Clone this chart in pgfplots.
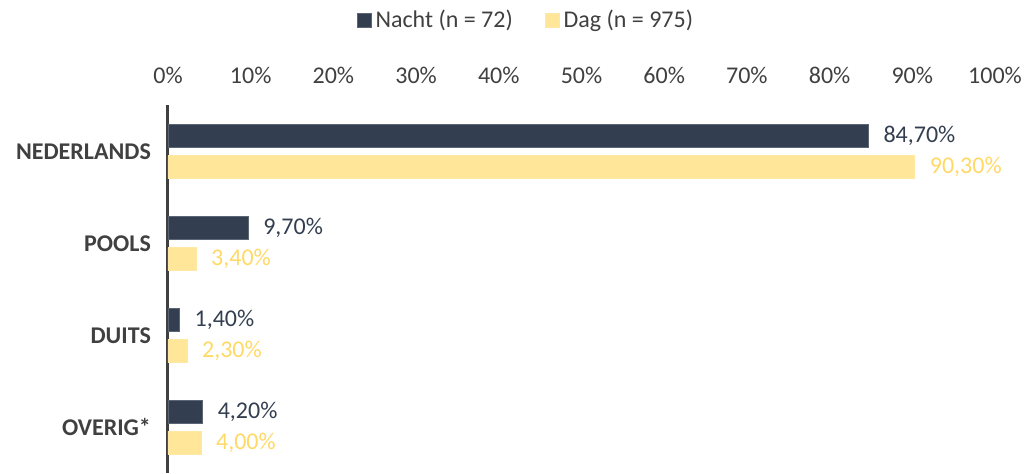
\documentclass[border=0pt]{standalone}
\usepackage{pgfplots}
\pgfplotsset{compat=1.18}
\usepackage{fontspec}
\setmainfont{Carlito}
\definecolor{nacht}{HTML}{333F50}
\definecolor{dag}{HTML}{FFE699}
\definecolor{daglab}{HTML}{FFD966}
\definecolor{txt}{HTML}{404040}
\begin{document}
\begin{tikzpicture}
\path[use as bounding box] (-84pt,0pt) rectangle (428.5pt,236.5pt);
\begin{axis}[
  at={(0pt,0pt)}, anchor=south west,
  scale only axis, width=413.5pt, height=184pt,
  xbar, bar width=11.5pt, bar shift=0pt,
  xmin=0, xmax=100, ymin=-0.51, ymax=3.5, y dir=reverse,
  separate axis lines,
  axis x line*=top, axis y line*=left,
  x axis line style={draw=none},
  y axis line style={-, line width=1.5pt, color=txt},
  major tick length=0pt,
  xtick={0,10,...,100},
  xticklabels={0\%,10\%,20\%,30\%,40\%,50\%,60\%,70\%,80\%,90\%,100\%},
  xticklabel style={font=\fontsize{12}{14}\selectfont, text=txt, yshift=7pt},
  ytick={0,1,2,3},
  yticklabels={NEDERLANDS,POOLS,DUITS,OVERIG*},
  yticklabel style={font=\fontsize{12}{14}\selectfont\bfseries, text=txt, xshift=-5pt},
  point meta=explicit symbolic,
  nodes near coords,
  every node near coord/.append style={anchor=west, xshift=4pt, font=\fontsize{12}{14}\selectfont},
  legend columns=2,
  legend style={at={(0.434,1.231)}, anchor=center, draw=none, fill=none,
    font=\fontsize{12}{14}\selectfont, text=txt,
    /tikz/every even column/.append style={column sep=14pt}},
  legend image code/.code={\fill[#1] (0pt,-3.5pt) rectangle (7pt,3.5pt);},
  clip=false,
]
\addplot[fill=nacht, draw=nacht!80!white, every node near coord/.append style={text=nacht}]
  table[meta=lab] {
  x y lab
  84.7 -0.169 84,70\%
  9.7 0.831 9,70\%
  1.4 1.831 1,40\%
  4.2 2.831 4,20\%
};
\addlegendentry{Nacht (n = 72)}
\addplot[fill=dag, draw=dag!90!white, every node near coord/.append style={text=daglab}]
  table[meta=lab] {
  x y lab
  90.3 0.169 90,30\%
  3.4 1.169 3,40\%
  2.3 2.169 2,30\%
  4.0 3.169 4,00\%
};
\addlegendentry{Dag (n = 975)}
\end{axis}
\end{tikzpicture}
\end{document}
